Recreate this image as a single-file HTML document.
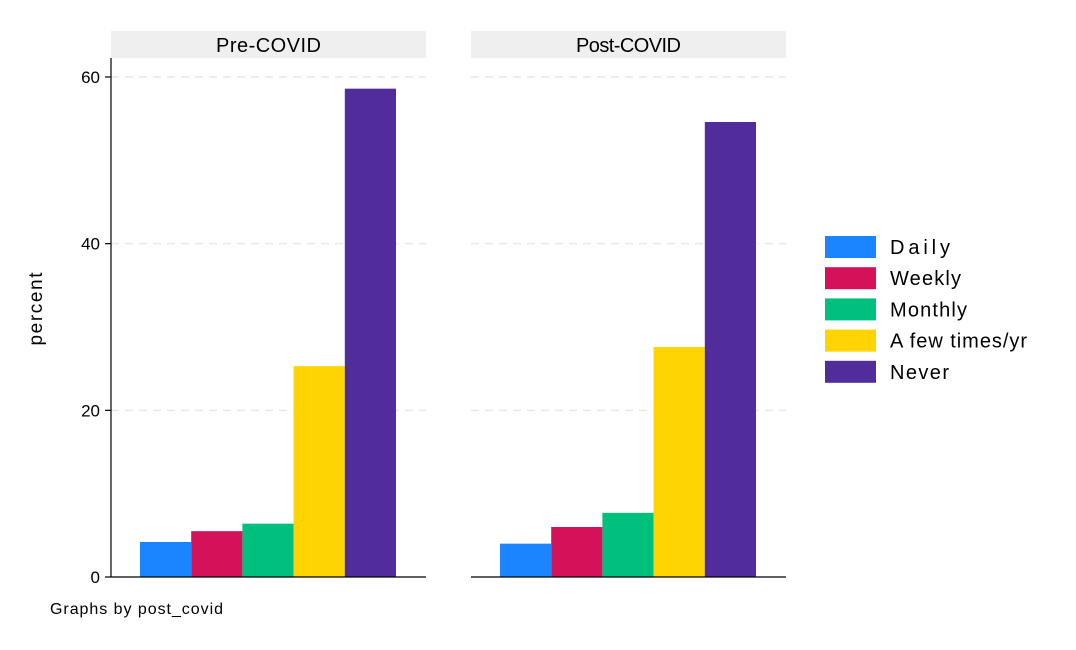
<!DOCTYPE html>
<html><head><meta charset="utf-8"><style>
body{margin:0;background:#fff;font-family:"Liberation Sans",Arial,sans-serif}
</style></head><body>
<svg id="chart" width="1076" height="645" xmlns="http://www.w3.org/2000/svg">
<rect width="1076" height="645" fill="#fff"/>
</svg>
<script>
const categories=["Daily","Weekly","Monthly","A few times/yr","Never"];
const colors=["#1a85ff","#d41159","#00bf7f","#ffd400","#512d9b"];
const panels=["Pre-COVID","Post-COVID"];
const preValues=[4.2,5.5,6.4,25.3,58.6];
const postValues=[4.0,6.0,7.7,27.6,54.6];
const yTicks=[0,20,40,60];
const svg=document.getElementById('chart');
const NS="http://www.w3.org/2000/svg";
function el(t,a,p){const e=document.createElementNS(NS,t);for(const k in a)e.setAttribute(k,a[k]);(p||svg).appendChild(e);return e;}
const y0=577,pxPer=500/60;
function y(v){return y0-v*pxPer;}
const panelX=[111,471],panelW=315,barStart=29,barW=51.2;
[preValues,postValues].forEach((vals,pi)=>{
  const g=el('g',{});
  
  
  const px=panelX[pi];
  const h=el('rect',{x:px,y:31,width:panelW,height:27,fill:'#efefef'},g);
  
  
  const ht=el('text',{x:px+panelW/2,y:52,'text-anchor':'middle','font-size':20,textLength:105,fill:'#000'},g);
  ht.textContent=panels[pi];
  
  
  yTicks.slice(1).forEach(t=>{
    const gl=el('line',{x1:px,x2:px+panelW,y1:y(t),y2:y(t),stroke:'#e8e8e8','stroke-width':1.5,'stroke-dasharray':'8,6'},g);
    
    
  });
  vals.forEach((v,i)=>{
    const b=el('rect',{x:px+barStart+i*barW,y:y(v),width:barW,height:y0-y(v),fill:colors[i]},g);
    
    
  });
  const bl=el('line',{x1:px,x2:px+panelW,y1:y0,y2:y0,stroke:'#000','stroke-width':1.2},g);
  
  
});
const ax=el('line',{x1:111,x2:111,y1:58,y2:y0,stroke:'#000','stroke-width':1.2});


yTicks.forEach(t=>{
  const tk=el('line',{x1:105,x2:111,y1:y(t),y2:y(t),stroke:'#000','stroke-width':1.2});
  
  
  const tl=el('text',{x:100,y:y(t)+6,'text-anchor':'end','font-size':17});
  tl.textContent=t;
  
  
});
const yt=el('text',{x:42,y:309,'text-anchor':'middle','font-size':19,textLength:73,transform:'rotate(-90 42 309)'});
yt.textContent='percent';


const note=el('text',{x:50,y:614,'font-size':16,textLength:173});
note.textContent='Graphs by post_covid';


const legendLens=[60,71,77,137,59];
categories.forEach((c,i)=>{
  const g=el('g',{});
  
  
  const yy=236+i*31.2;
  el('rect',{x:825,y:yy,width:51,height:22,fill:colors[i]},g);
  const t=el('text',{x:890,y:yy+18,'font-size':20,textLength:legendLens[i]},g);
  t.textContent=c;
});
</script>
</body></html>
